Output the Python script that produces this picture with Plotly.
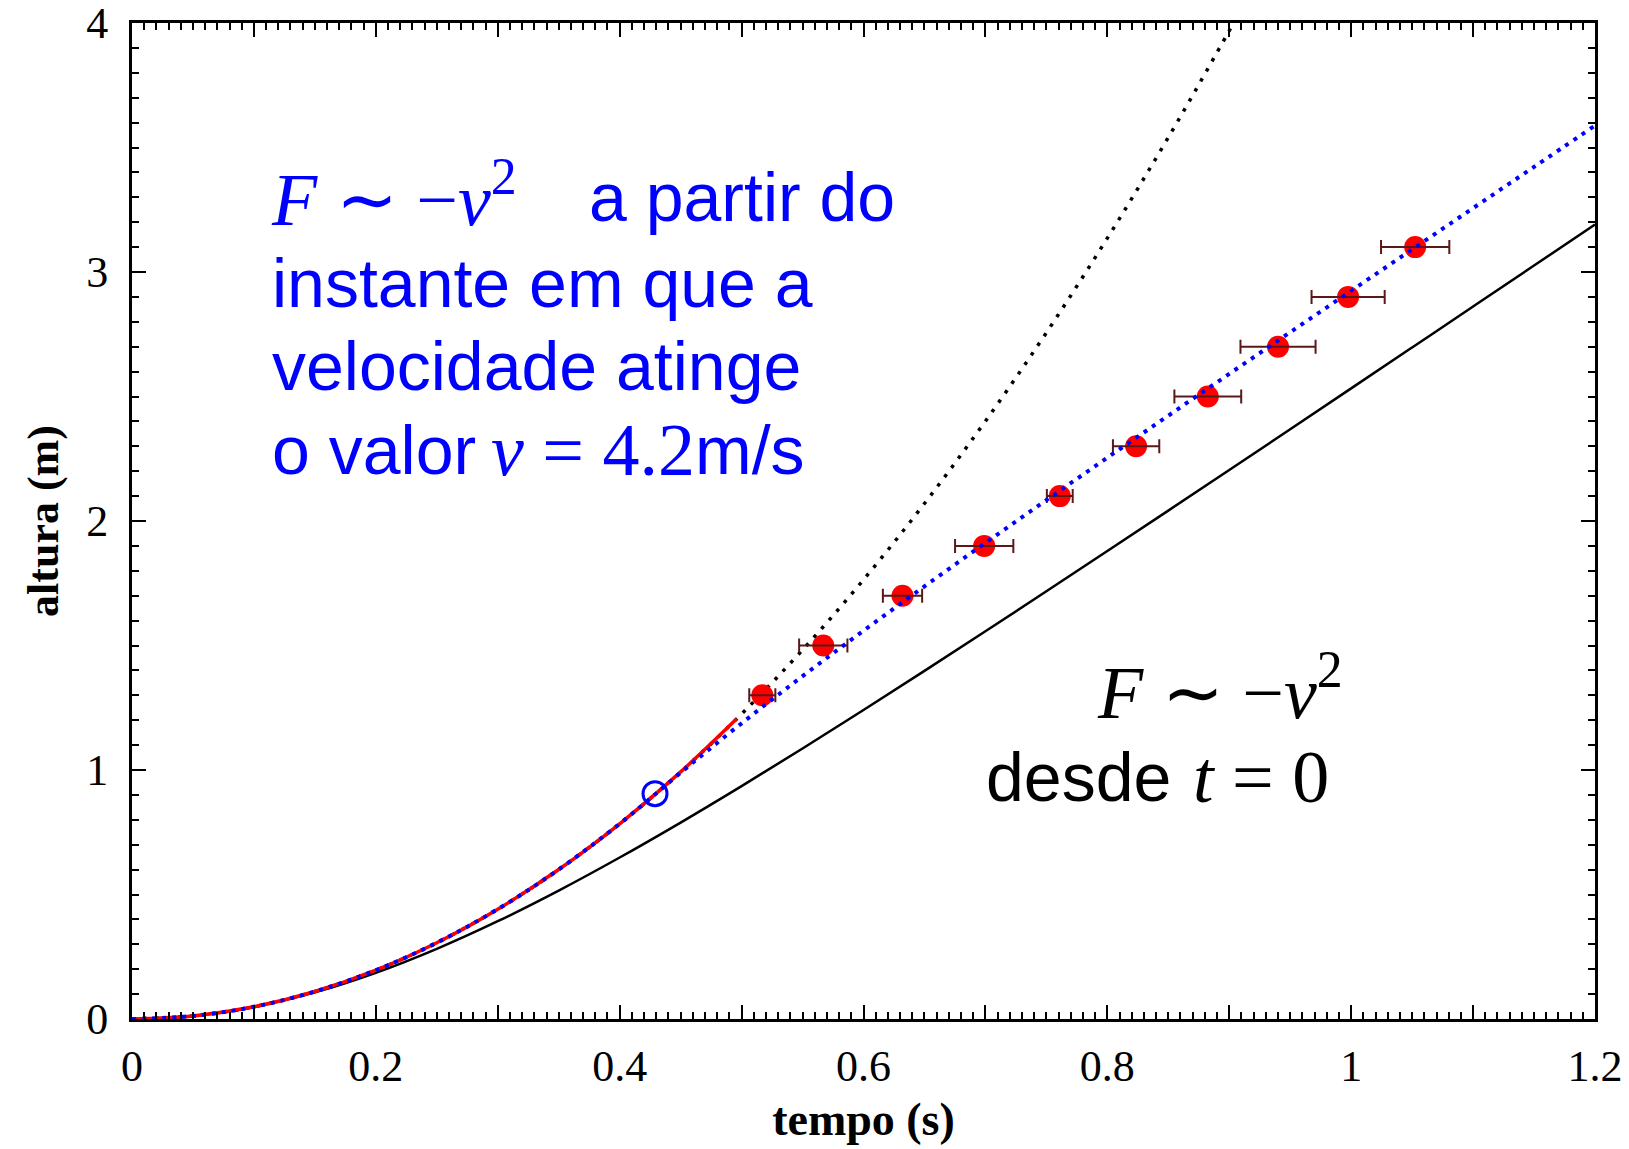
import plotly.graph_objects as go

# ---------------- data ----------------
# black solid: F ~ -v^2 from t = 0
t_drag0 = [0, 0.05, 0.10, 0.15, 0.20, 0.25, 0.30, 0.35, 0.40, 0.45, 0.50, 0.55, 0.60,
           0.65, 0.70, 0.75, 0.80, 0.85, 0.90, 0.95, 1.00, 1.05, 1.10, 1.15, 1.20]
h_drag0 = [0, 0.0122, 0.0483, 0.1068, 0.1855, 0.2817, 0.3927, 0.5157, 0.6485, 0.7889,
           0.9353, 1.0863, 1.2408, 1.3979, 1.5570, 1.7176, 1.8793, 2.0418, 2.2050,
           2.3686, 2.5326, 2.6969, 2.8613, 3.0259, 3.1906]

# blue dotted: free fall, then F ~ -v^2 after v = 4.2 m/s
t_blue = [0, 0.05, 0.10, 0.15, 0.20, 0.25, 0.30, 0.35, 0.40, 0.43, 0.45, 0.50, 0.55,
          0.60, 0.65, 0.70, 0.75, 0.80, 0.85, 0.90, 0.95, 1.00, 1.05, 1.10, 1.15, 1.20]
h_blue = [0, 0.0123, 0.049, 0.1103, 0.196, 0.3063, 0.441, 0.6003, 0.784, 0.906, 0.9889,
          1.1875, 1.3768, 1.5594, 1.7374, 1.9119, 2.0840, 2.2542, 2.4230, 2.5909,
          2.7580, 2.9245, 3.0907, 3.2565, 3.4221, 3.588]

# black dotted: free fall
t_free = [0, 0.05, 0.10, 0.15, 0.20, 0.25, 0.30, 0.35, 0.40, 0.45, 0.50, 0.55, 0.60,
          0.65, 0.70, 0.75, 0.80, 0.85, 0.90, 0.91]
h_free = [0, 0.0123, 0.049, 0.1103, 0.196, 0.3063, 0.441, 0.6003, 0.784, 0.9923, 1.225,
          1.4823, 1.764, 2.0703, 2.401, 2.7563, 3.136, 3.5403, 3.969, 4.0577]

# red solid: free fall fit of the first part
t_red = [0, 0.05, 0.10, 0.15, 0.20, 0.25, 0.30, 0.35, 0.40, 0.45, 0.496]
h_red = [0, 0.0123, 0.049, 0.1103, 0.196, 0.3063, 0.441, 0.6003, 0.784, 0.9923, 1.2055]

# measured points with horizontal error bars
t_meas = [0.517, 0.567, 0.632, 0.699, 0.761, 0.8236, 0.8824, 0.940, 0.9975, 1.0525]
h_meas = [1.3, 1.5, 1.7, 1.9, 2.1, 2.3, 2.5, 2.7, 2.9, 3.1]
t_err = [0.0107, 0.0198, 0.0161, 0.0239, 0.0106, 0.019, 0.0274, 0.0308, 0.030, 0.028]

# point where v = 4.2 m/s
t_switch = [0.429]
h_switch = [0.905]

SERIF = "Liberation Serif"
SANS = "Liberation Sans"
BLUE = "#0000ff"

fig = go.Figure()

fig.add_trace(go.Scatter(x=t_drag0, y=h_drag0, mode="lines",
                         line=dict(color="black", width=2.5, shape="spline")))
fig.add_trace(go.Scatter(x=t_free, y=h_free, mode="lines",
                         line=dict(color="black", width=3.5, dash="3.5px,8px", shape="spline")))
fig.add_trace(go.Scatter(x=t_red, y=h_red, mode="lines",
                         line=dict(color="#ff0000", width=3.5, shape="spline")))
fig.add_trace(go.Scatter(x=t_meas, y=h_meas, mode="markers",
                         marker=dict(color="#ff0000", size=22, line=dict(width=0))))
fig.add_trace(go.Scatter(x=t_meas, y=h_meas, mode="markers",
                         marker=dict(color="rgba(0,0,0,0)", size=1),
                         error_x=dict(type="data", array=t_err, color="#5a1818",
                                      thickness=2, width=7)))
fig.add_trace(go.Scatter(x=t_blue, y=h_blue, mode="lines",
                         line=dict(color=BLUE, width=4, dash="4px,6px", shape="spline")))
fig.add_trace(go.Scatter(x=t_switch, y=h_switch, mode="markers",
                         marker=dict(symbol="circle-open", color=BLUE, size=24,
                                     line=dict(color=BLUE, width=3))))

def ann(x, y, text, color, size=68, family=SANS):
    return dict(x=x, y=y, xref="x", yref="y", text=text, showarrow=False,
                xanchor="left", yanchor="middle",
                font=dict(family=family, size=size, color=color))

MATH = 74
annotations = [
    ann(0.1120, 3.313, '<i>F</i> ∼ −<i>v</i><sup>2</sup>', BLUE, size=MATH, family=SERIF),
    ann(0.3733, 3.303, "a partir do", BLUE),
    ann(0.1132, 2.955, "instante em que a", BLUE),
    ann(0.1132, 2.621, "velocidade atinge", BLUE),
    ann(0.1132, 2.287, "o valor", BLUE),
    ann(0.2925, 2.287, '<i>v</i> = 4.2', BLUE, size=MATH, family=SERIF),
    ann(0.4602, 2.287, "m/s", BLUE),
    ann(0.7900, 1.333, '<i>F</i> ∼ −<i>v</i><sup>2</sup>', "black", size=MATH, family=SERIF),
    ann(0.6990, 0.973, "desde", "black"),
    ann(0.8690, 0.973, '<i>t</i> = 0', "black", size=MATH, family=SERIF),
]

fig.update_layout(
    width=1629, height=1149,
    margin=dict(l=132, r=34, t=23, b=130),
    paper_bgcolor="white", plot_bgcolor="white",
    showlegend=False,
    annotations=annotations,
    xaxis=dict(
        range=[0, 1.2], tickmode="linear", tick0=0, dtick=0.1, ticklabelstep=2,
        ticks="inside", ticklen=14, tickwidth=2, tickcolor="black",
        showline=True, linewidth=3, linecolor="black", mirror="allticks",
        showgrid=False, zeroline=False, automargin=False, ticklabelstandoff=6,
        ticklabeloverflow="allow",
        minor=dict(tick0=0, dtick=0.01, ticks="inside", ticklen=7, tickwidth=2,
                   tickcolor="black", showgrid=False),
        tickfont=dict(family=SERIF, size=44, color="black"),
        title=dict(text="<b>tempo (s)</b>", font=dict(family=SERIF, size=46, color="black"),
                   standoff=14),
    ),
    yaxis=dict(
        range=[0, 4], tickmode="linear", tick0=0, dtick=1,
        ticks="inside", ticklen=14, tickwidth=2, tickcolor="black",
        showline=True, linewidth=3, linecolor="black", mirror="allticks",
        showgrid=False, zeroline=False, automargin=False, ticklabelstandoff=12,
        ticklabeloverflow="allow",
        minor=dict(tick0=0, dtick=0.1, ticks="inside", ticklen=7, tickwidth=2,
                   tickcolor="black", showgrid=False),
        tickfont=dict(family=SERIF, size=44, color="black"),
        title=dict(text="<b>altura (m)</b>", font=dict(family=SERIF, size=44, color="black"),
                   standoff=14),
    ),
)

fig.write_html("out.html")
